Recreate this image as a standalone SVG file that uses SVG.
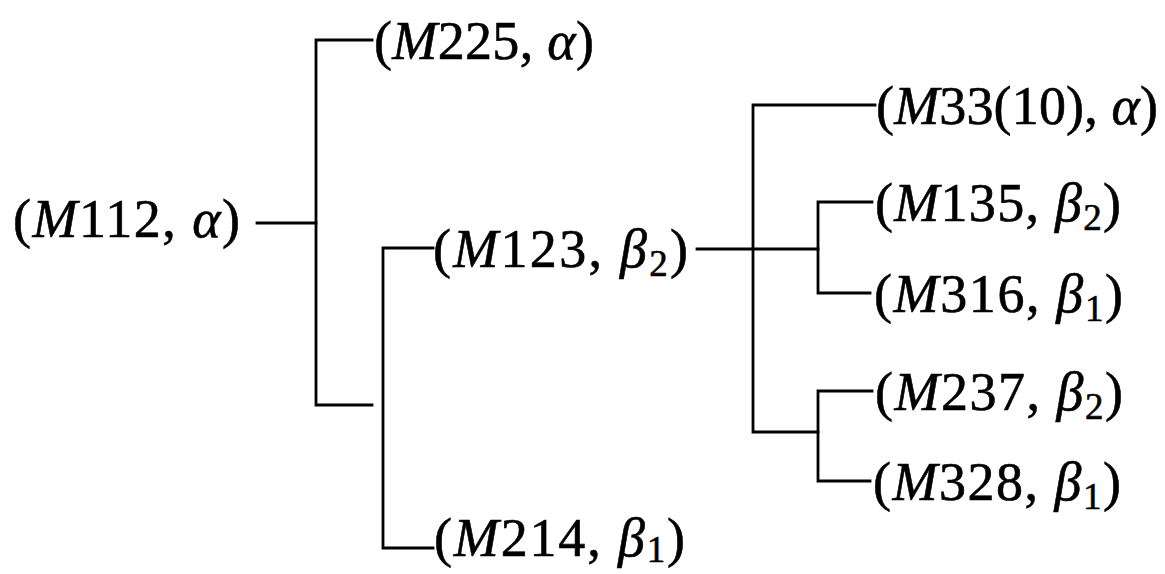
<svg xmlns="http://www.w3.org/2000/svg" width="1165" height="574" viewBox="0 0 1165 574">
<style>
  .bg { fill: #ffffff; }
  .conn { fill: none; stroke: #000; stroke-width: 2.8; stroke-linecap: square; stroke-linejoin: miter; }
  .lbl { font-family: "Liberation Serif", "Times New Roman", serif; font-size: 54px; fill: #000; stroke: #000; stroke-width: 0.6; }
  .it { font-style: italic; }
  .sub { font-size: 37px; }
</style>
<rect class="bg" x="0" y="0" width="1165" height="574"/>
<g id="connectors">
  <path class="conn" d="M257,223 H316"/>
  <path class="conn" d="M372,40 H316 V405 H372"/>
  <path class="conn" d="M433,248 H383 V548 H433"/>
  <path class="conn" d="M697,249 H818"/>
  <path class="conn" d="M875,105 H753 V432 H818"/>
  <path class="conn" d="M872,202 H818 V293 H870"/>
  <path class="conn" d="M872,391 H818 V481 H870"/>
</g>
<g id="n-M112"><text class="lbl" x="13" y="237" textLength="227" lengthAdjust="spacing">(<tspan class="it">M</tspan>112, <tspan class="it">α</tspan>)</text></g>
<g id="n-M225"><text class="lbl" x="374" y="59" textLength="220" lengthAdjust="spacing">(<tspan class="it">M</tspan>225, <tspan class="it">α</tspan>)</text></g>
<g id="n-M123"><text class="lbl" x="433" y="267" textLength="255" lengthAdjust="spacing">(<tspan class="it">M</tspan>123, <tspan class="it">β</tspan><tspan class="sub" dy="9">2</tspan><tspan dy="-9">)</tspan></text></g>
<g id="n-M214"><text class="lbl" x="434" y="556" textLength="251" lengthAdjust="spacing">(<tspan class="it">M</tspan>214, <tspan class="it">β</tspan><tspan class="sub" dy="6">1</tspan><tspan dy="-6">)</tspan></text></g>
<g id="n-M33"><text class="lbl" x="876" y="124" textLength="282" lengthAdjust="spacing">(<tspan class="it">M</tspan>33(10), <tspan class="it">α</tspan>)</text></g>
<g id="n-M135"><text class="lbl" x="875" y="221" textLength="246" lengthAdjust="spacing">(<tspan class="it">M</tspan>135, <tspan class="it">β</tspan><tspan class="sub" dy="9">2</tspan><tspan dy="-9">)</tspan></text></g>
<g id="n-M316"><text class="lbl" x="874" y="312" textLength="249" lengthAdjust="spacing">(<tspan class="it">M</tspan>316, <tspan class="it">β</tspan><tspan class="sub" dy="9">1</tspan><tspan dy="-9">)</tspan></text></g>
<g id="n-M237"><text class="lbl" x="875" y="410" textLength="248" lengthAdjust="spacing">(<tspan class="it">M</tspan>237, <tspan class="it">β</tspan><tspan class="sub" dy="9">2</tspan><tspan dy="-9">)</tspan></text></g>
<g id="n-M328"><text class="lbl" x="873" y="500" textLength="248" lengthAdjust="spacing">(<tspan class="it">M</tspan>328, <tspan class="it">β</tspan><tspan class="sub" dy="9">1</tspan><tspan dy="-9">)</tspan></text></g>
</svg>
